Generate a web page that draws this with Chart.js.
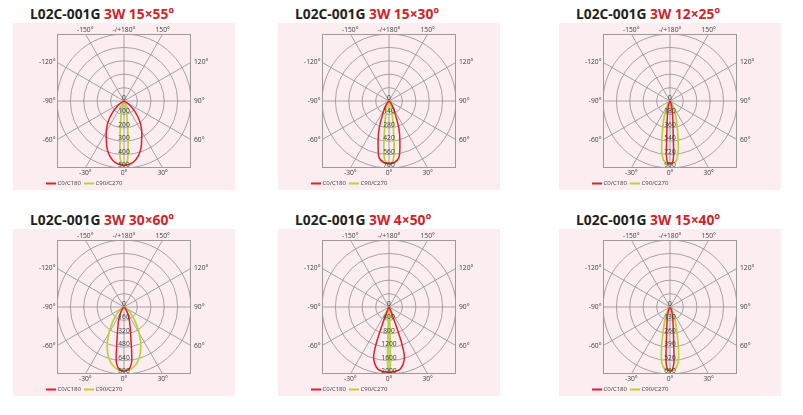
<!DOCTYPE html>
<html><head><meta charset="utf-8">
<script src="https://cdn.jsdelivr.net/npm/chart.js@4.4.1/dist/chart.umd.min.js"></script>
<style>
html,body{margin:0;padding:0;background:#fff;width:803px;height:415px;overflow:hidden;}
.title{position:absolute;font-family:"Open Sans",sans-serif;font-weight:700;font-size:13.8px;line-height:13px;white-space:nowrap;color:#231f20;}
.title span{color:#d1232a;}
canvas{position:absolute;background:#fcedf0;}
</style></head><body>
<script>
// ---- titles ----
const models = ['L02C-001G','L02C-001G','L02C-001G','L02C-001G','L02C-001G','L02C-001G'];
const specs  = ['3W 15×55°','3W 15×30°','3W 12×25°','3W 30×60°','3W 4×50°','3W 15×40°'];
const seriesLabels = ['C0/C180','C90/C270'];

// ---- radial tick labels (cd) ----
const ticks1 = [0,100,200,300,400,500];
const ticks2 = [0,140,280,420,560,700];
const ticks3 = [0,180,360,540,720,900];
const ticks4 = [0,160,320,480,640,800];
const ticks5 = [0,400,800,1200,1600,2000];
const ticks6 = [0,130,260,390,520,650];

// ---- angle tick labels (degrees) ----
const angleTicks = [0,30,60,90,120,150,180,-150,-120,-90,-60,-30];

// ---- chart 1 (15x55) ----
const c1RedAngles   = [0,5,10,15,20,25,30,35,40,45,50,55,60,65,70];
const c1RedValues   = [480,474,455,420,372,312,265,218,170,122,78,42,16,4,0];
const c1GreenAngles = [0,2,4,6,8,10,12,15,20,25,30,35];
const c1GreenValues = [480,470,420,285,195,135,95,58,27,11,3,0];
// ---- chart 2 (15x30) ----
const c2RedAngles   = [0,5,10,15,20,25,30,35,40,45,50,55,60];
const c2RedValues   = [655,645,600,440,300,160,100,62,36,18,8,3,0];
const c2GreenAngles = [0,2,4,6,8,10,12,15,20,25,30,35,40];
const c2GreenValues = [655,648,620,520,360,250,180,120,65,32,14,5,0];
// ---- chart 3 (12x25) ----
const c3RedAngles   = [0,1,2,3,4,5,6,8,10,12,15,20,25,30,35,40];
const c3RedValues   = [846,842,830,800,700,520,400,280,200,150,100,55,28,12,4,0];
const c3GreenAngles = [0,3,6,9,12,15,18,21,25,30,35,40,45,50,55];
const c3GreenValues = [846,838,805,700,520,380,280,205,140,85,48,25,10,3,0];
// ---- chart 4 (30x60) ----
const c4RedAngles   = [0,2,4,6,8,10,12,15,20,25,30,35,40,45,50,55,60];
const c4RedValues   = [764,760,748,720,660,520,400,300,200,130,85,52,30,15,6,2,0];
const c4GreenAngles = [0,5,10,15,20,25,30,35,40,45,50,55,60,65,70,75];
const c4GreenValues = [764,752,718,660,575,470,360,260,185,125,80,45,22,8,2,0];
// ---- chart 5 (4x50) ----
const c5RedAngles   = [0,4,8,11,14,16,17.5,18.5,19.5,20.5,21.5,23,26,30,35,40];
const c5RedValues   = [1950,1940,1915,1860,1750,1640,1520,1350,1100,700,350,150,60,25,8,0];
const c5GreenAngles = [0,0.5,1,1.5,2,2.5,3,4,5,7,10,15,20];
const c5GreenValues = [1950,1935,1880,1650,1000,600,380,200,120,60,25,8,0];
// ---- chart 6 (15x40) ----
const c6RedAngles   = [0,1,2,3,4,5,6,7,8,10,12,15,20,25,30,35,40];
const c6RedValues   = [621,618,608,585,540,440,340,280,235,175,135,95,55,30,14,5,0];
const c6GreenAngles = [0,3,6,9,12,15,18,21,25,30,35,40,45,50,55];
const c6GreenValues = [621,615,590,525,390,270,190,135,85,50,28,14,6,2,0];

const RED = '#e41f2b', GREEN = '#b8d432', GRID = '#9a9a9a', TXT = '#3a3a3a';

const panels = [
  {ticks:ticks1, red:[c1RedAngles,c1RedValues], green:[c1GreenAngles,c1GreenValues]},
  {ticks:ticks2, red:[c2RedAngles,c2RedValues], green:[c2GreenAngles,c2GreenValues]},
  {ticks:ticks3, red:[c3RedAngles,c3RedValues], green:[c3GreenAngles,c3GreenValues]},
  {ticks:ticks4, red:[c4RedAngles,c4RedValues], green:[c4GreenAngles,c4GreenValues]},
  {ticks:ticks5, red:[c5RedAngles,c5RedValues], green:[c5GreenAngles,c5GreenValues]},
  {ticks:ticks6, red:[c6RedAngles,c6RedValues], green:[c6GreenAngles,c6GreenValues]},
];

// symmetric polar curve (C0 right / C180 left) -> data coords
function polarPoints(angles, values){
  const pts = [];
  for (let i = angles.length-1; i >= 0; i--) {
    const a = -angles[i]*Math.PI/180;
    pts.push({x: values[i]*Math.sin(a), y: -values[i]*Math.cos(a)});
  }
  for (let i = 1; i < angles.length; i++) {
    const a = angles[i]*Math.PI/180;
    pts.push({x: values[i]*Math.sin(a), y: -values[i]*Math.cos(a)});
  }
  return pts;
}

const polarPlugin = {
  id: 'polarGrid',
  beforeDatasetsDraw(chart, args, opts){
    const {ctx, chartArea: ca, scales:{x, y}} = chart;
    const cx = x.getPixelForValue(0), cy = y.getPixelForValue(0);
    ctx.save();
    ctx.strokeStyle = GRID; ctx.lineWidth = 0.9;
    ctx.beginPath(); ctx.rect(ca.left, ca.top, ca.width, ca.height); ctx.clip();
    opts.ticks.forEach(t => {
      if (t <= 0) return;
      const r = x.getPixelForValue(t) - cx;
      ctx.beginPath(); ctx.arc(cx, cy, r, 0, Math.PI*2); ctx.stroke();
    });
    const L = ca.width*2;
    angleTicks.forEach(a => {
      const rad = a*Math.PI/180;
      ctx.beginPath(); ctx.moveTo(cx, cy);
      ctx.lineTo(cx + L*Math.sin(rad), cy + L*Math.cos(rad)); ctx.stroke();
    });
    ctx.restore();
    ctx.save();
    ctx.strokeStyle = GRID; ctx.lineWidth = 1;
    ctx.strokeRect(ca.left+0.5, ca.top+0.5, ca.width-1, ca.height-1);
    ctx.restore();
  },
  afterDatasetsDraw(chart, args, opts){
    const {ctx, chartArea: ca, scales:{x, y}} = chart;
    const cx = x.getPixelForValue(0), cy = y.getPixelForValue(0);
    const R = (ca.width)/2;
    ctx.save();
    ctx.fillStyle = TXT;
    ctx.font = '6.7px "Open Sans"';
    // radial tick labels along 0° spoke
    ctx.textAlign = 'center'; ctx.textBaseline = 'bottom';
    opts.ticks.forEach(t => {
      ctx.fillText(String(t), cx, y.getPixelForValue(-t) + 0.5);
    });
    // angle labels around the box
    angleTicks.forEach(a => {
      const rad = a*Math.PI/180, s = Math.sin(rad), c = Math.cos(rad);
      const t = R / Math.max(Math.abs(s), Math.abs(c));
      let px = cx + t*s, py = cy + t*c;
      const txt = (a === 180 ? '-/+180' : String(a)) + '°';
      if (Math.abs(c) > Math.abs(s)) {
        ctx.textAlign = 'center'; ctx.textBaseline = 'middle';
        if (c > 0) py += 5.5; else py -= 3.8;
      } else {
        ctx.textBaseline = 'middle';
        if (s > 0) { ctx.textAlign = 'left'; px += 3; }
        else { ctx.textAlign = 'right'; px -= 1.5; }
      }
      ctx.fillText(txt, px, py);
    });
    // legend
    const ly = chart.height - 6.5;
    ctx.font = '6px "Open Sans"';
    ctx.textAlign = 'left'; ctx.textBaseline = 'middle';
    const xs = [33, 71];
    chart.data.datasets.forEach((ds, i) => {
      ctx.strokeStyle = ds.borderColor; ctx.lineWidth = 2;
      ctx.beginPath(); ctx.moveTo(xs[i], ly); ctx.lineTo(xs[i]+10, ly); ctx.stroke();
      ctx.fillStyle = TXT;
      ctx.fillText(ds.label, xs[i]+11.5, ly);
    });
    ctx.restore();
  }
};

const colLeft = [13, 278, 559];
const rowTop = [23, 229];
const titleTop = [6.5, 212.5];

panels.forEach((p, i) => {
  const col = i % 3, row = Math.floor(i/3);
  const title = document.createElement('div');
  title.className = 'title';
  title.style.left = (colLeft[col] + 17) + 'px';
  title.style.top = titleTop[row] + 'px';
  title.innerHTML = models[i] + ' <span>' + specs[i] + '</span>';
  document.body.appendChild(title);

  const cv = document.createElement('canvas');
  cv.width = 222; cv.height = 167;
  cv.style.left = colLeft[col] + 'px';
  cv.style.top = rowTop[row] + 'px';
  cv.style.width = '222px'; cv.style.height = '167px';
  document.body.appendChild(cv);

  const max = p.ticks[p.ticks.length-1];
  new Chart(cv, {
    type: 'scatter',
    data: { datasets: [
      {label: seriesLabels[0], data: polarPoints(p.red[0], p.red[1]), showLine: true,
       borderColor: RED, borderWidth: 1.5, pointRadius: 0, tension: 0.3, fill: false},
      {label: seriesLabels[1], data: polarPoints(p.green[0], p.green[1]), showLine: true,
       borderColor: GREEN, borderWidth: 1.7, pointRadius: 0, tension: 0.3, fill: false},
    ]},
    options: {
      responsive: false, animation: false, events: [],
      layout: {padding: {left: 44, right: 44, top: 11, bottom: 22}},
      scales: {
        x: {type: 'linear', min: -max, max: max, display: false},
        y: {type: 'linear', min: -max, max: max, display: false}
      },
      plugins: {legend: {display: false}, tooltip: {enabled: false}, polarGrid: {ticks: p.ticks}}
    },
    plugins: [polarPlugin]
  });
});
</script>
</body></html>
